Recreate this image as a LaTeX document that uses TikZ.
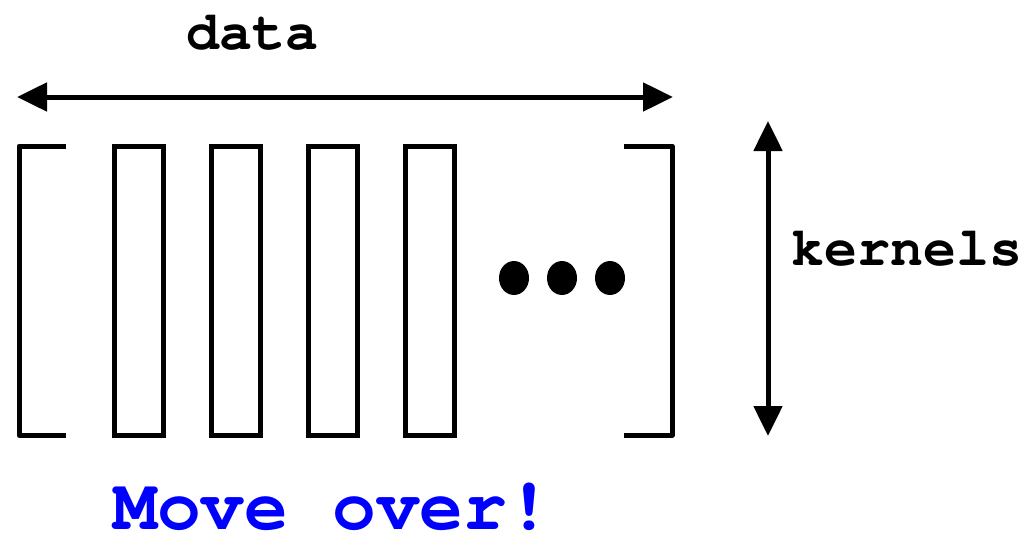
\documentclass[tikz,border=0pt]{standalone}
\usetikzlibrary{arrows.meta}
\definecolor{moveblue}{RGB}{0,0,255}
\newcommand{\courbold}{\fontencoding{T1}\fontfamily{pcr}\fontseries{b}\selectfont}
\tikzset{
  thick line/.style={line width=5pt},
  kernelbox/.style={thick line, draw=black},
  bracketline/.style={thick line, line join=round},
  dimarrow/.style={line width=5pt, {Triangle[length=30pt,width=28pt]}-{Triangle[length=30pt,width=28pt]}},
  lbl/.style={font=\courbold\fontsize{55}{60}\selectfont, inner sep=0pt},
  bigblue/.style={font=\courbold\fontsize{73}{80}\selectfont, text=moveblue, inner sep=0pt, text depth=0pt},
}
\begin{document}
\begin{tikzpicture}[x=1pt,y=-1pt]
\useasboundingbox (0,0) rectangle (1023,535);
% text labels
\node[lbl, anchor=base] (data) at (252,50) {data};
\node[lbl, anchor=base west] (kernels) at (791,265) {kernels};
\node[bigblue, anchor=base west] (move) at (113,529) {Move over!};
% dimension arrows
\coordinate (hl) at (17,97);
\coordinate (hr) at (673,97);
\draw[dimarrow] (hl) -- (hr);
\coordinate (vt) at (768,121);
\coordinate (vb) at (768,436);
\draw[dimarrow] (vt) -- (vb);
% brackets
\draw[bracketline] (66,146) -- (19,146) -- (19,435) -- (66,435);
\draw[bracketline] (624,146) -- (672,146) -- (672,435) -- (624,435);
% kernel boxes
\foreach \x in {114,211,308,405}{
  \draw[kernelbox] (\x,146) rectangle ++(49,289);
}
% dots
\foreach \x in {514,562,610}{
  \fill (\x,278) ellipse [x radius=15, y radius=17];
}
\end{tikzpicture}
\end{document}
